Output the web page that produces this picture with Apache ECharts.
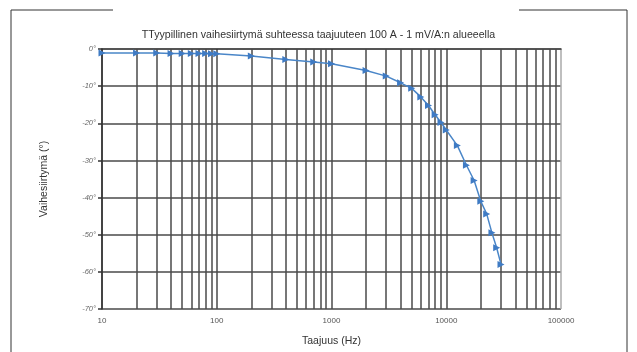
<!DOCTYPE html>
<html><head><meta charset="utf-8">
<script src="https://cdn.jsdelivr.net/npm/echarts@6/dist/echarts.min.js"></script>
<style>html,body{margin:0;padding:0;background:#fff}#c{width:637px;height:352px}</style>
</head><body><div id="c"></div>
<script>
const titleText = 'TTyypillinen vaihesiirtymä suhteessa taajuuteen 100 A - 1 mV/A:n alueeella';
const xName = 'Taajuus (Hz)';
const yName = 'Vaihesiirtymä (°)';
const frequencies = [10,20,30,40,50,60,70,80,90,100,200,400,700,1000,2000,3000,4000,5000,6000,7000,8000,9000,10000,12500,15000,17500,20000,22500,25000,27500,30000];
const phases = [-1.1,-1.1,-1.1,-1.2,-1.2,-1.2,-1.2,-1.2,-1.3,-1.3,-1.9,-2.8,-3.5,-4.0,-5.8,-7.3,-9.1,-10.6,-12.9,-15.2,-17.7,-19.8,-21.8,-26,-31.3,-35.4,-41,-44.4,-49.5,-53.5,-58];
const minorGridValues = [20,30,40,50,60,70,80,90,200,300,400,500,600,700,800,900,2000,3000,4000,5000,6000,7000,8000,9000,20000,30000,40000,50000,60000,70000,80000,90000];

const chart = echarts.init(document.getElementById('c'), null, {renderer:'canvas'});
const gridCol = '#4a4a4a';
chart.setOption({
  animation:false,
  backgroundColor:'#fff',
  title:{text:titleText,left:'center',top:25,textStyle:{fontFamily:'Liberation Sans',fontSize:10.6,fontWeight:'normal',color:'#333'}},
  grid:{left:102,right:76,top:49,bottom:40},
  xAxis:{type:'log',logBase:10,min:10,max:100000,
    name:xName,nameLocation:'middle',nameGap:27,
    nameTextStyle:{fontFamily:'Liberation Sans',fontSize:10.5,color:'#333'},
    axisLine:{show:true,lineStyle:{color:'#333',width:1.5}},
    axisTick:{show:false},
    axisLabel:{fontFamily:'Liberation Sans',fontSize:8,color:'#555',margin:8,formatter:v=>String(v)},
    splitLine:{show:true,lineStyle:{color:[gridCol,gridCol,gridCol,gridCol,'#aaa'],width:1.5}}},
  yAxis:{type:'value',min:-70,max:0,interval:10,
    name:yName,nameLocation:'middle',nameGap:52,nameRotate:90,
    nameTextStyle:{fontFamily:'Liberation Sans',fontSize:10.5,color:'#333'},
    axisLine:{show:true,lineStyle:{color:'#333',width:1.5}},
    axisTick:{show:true,length:4,lineStyle:{color:'#333',width:1.5}},
    axisLabel:{fontFamily:'Liberation Sans',fontSize:7.5,color:'#666',fontStyle:'italic',margin:6,formatter:v=>v+'°'},
    splitLine:{show:true,lineStyle:{color:[gridCol,gridCol,gridCol,gridCol,gridCol,gridCol,gridCol,'#aaa'],width:1.5}}},
  series:[{
    type:'line',
    data:frequencies.map((f,i)=>[f,phases[i]]),
    lineStyle:{color:'#4a86c8',width:1.5},
    itemStyle:{color:'#3f7bc4'},
    symbol:'triangle',symbolRotate:-90,symbolSize:7,
    z:5,
    markLine:{silent:true,symbol:'none',label:{show:false},
      lineStyle:{color:gridCol,width:1.5,type:'solid'},
      data:minorGridValues.map(v=>({xAxis:v})),z:1}
  }],
  graphic:[
    {type:'polyline',shape:{points:[[11,352],[11,10],[113,10]]},style:{stroke:'#333',lineWidth:1,fill:null}},
    {type:'polyline',shape:{points:[[519,10],[627,10],[627,352]]},style:{stroke:'#333',lineWidth:1,fill:null}}
  ]
});
</script></body></html>
